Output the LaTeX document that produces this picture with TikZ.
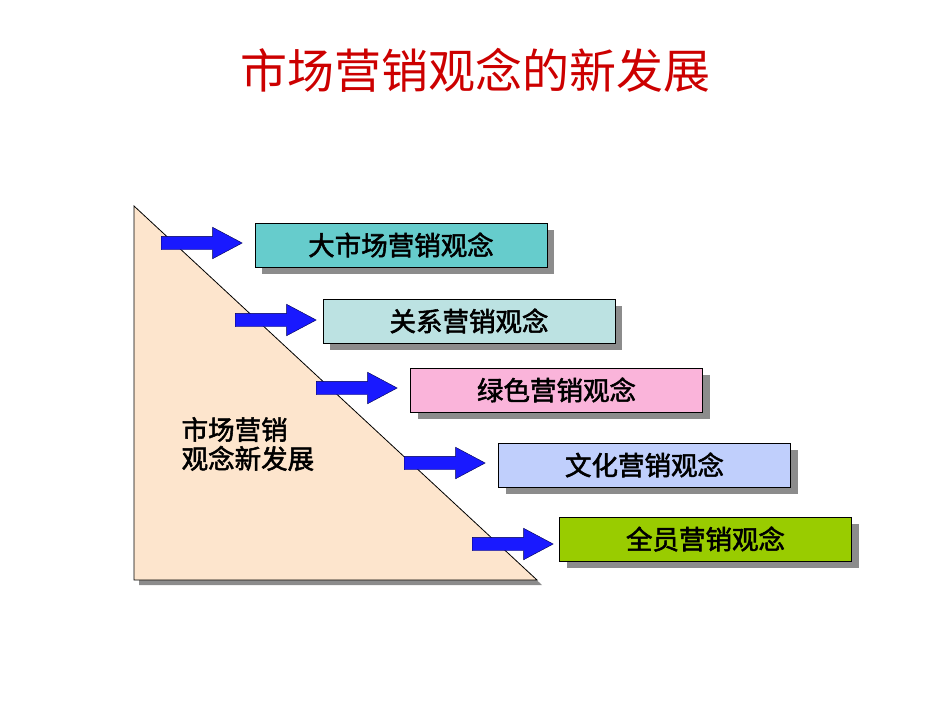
\documentclass[tikz,border=0pt]{standalone}
\usepackage{fontspec}
\usepackage{tikz}
\usetikzlibrary{shapes,shadows}
\newfontfamily\cjk{Noto Sans CJK SC}
\newfontfamily\cjkb[FakeBold=2]{Noto Sans CJK SC}
\definecolor{titlered}{HTML}{CC0000}
\definecolor{peach}{HTML}{FDE5CD}
\definecolor{teal1}{HTML}{66CCCC}
\definecolor{teal2}{HTML}{BCE2E2}
\definecolor{pink3}{HTML}{FAB4DA}
\definecolor{blue4}{HTML}{C0CFFC}
\definecolor{green5}{HTML}{99CC00}

\begin{document}
\begin{tikzpicture}[x=1pt,y=-1pt,semithick]
\tikzstyle{every node}=[font=\cjkb\fontsize{26.5}{29}\selectfont]
\tikzstyle{concept}=[draw=black,line width=0.8pt,minimum width=292pt,minimum height=44pt,inner sep=0pt,
  drop shadow={shadow xshift=7pt,shadow yshift=-7pt,fill=gray!90,opacity=1}]
\tikzstyle{push}=[single arrow,draw=blue!30!black,thin,fill=blue!90!white,inner xsep=0pt,inner ysep=6.5pt,
  minimum height=81pt,single arrow head extend=9pt,single arrow tip angle=56,anchor=tail]
\useasboundingbox (0,0) rectangle (950,713);

\node[text=titlered,font=\cjk\fontsize{47}{52}\selectfont] (title) at (475,70) {市场营销观念的新发展};

\filldraw[fill=peach,draw=black,line width=0.8pt,drop shadow={shadow xshift=5pt,shadow yshift=-5pt,fill=gray!90,opacity=1}]
  (134,206) -- (134,580) -- (537,580) -- cycle;
\node[align=left,anchor=west] (stage) at (178,444) {市场营销\\观念新发展};

\node[concept,fill=teal1] (big) at (401,245) {大市场营销观念};
\node[concept,fill=teal2] (rel) at (469,321) {关系营销观念};
\node[concept,fill=pink3] (green) at (556.5,390) {绿色营销观念};
\node[concept,fill=blue4] (cult) at (644.5,465) {文化营销观念};
\node[concept,fill=green5] (all) at (705.5,539) {全员营销观念};

\node[push] (a1) at (161,243) {};
\node[push] (a2) at (235,320) {};
\node[push] (a3) at (316,388) {};
\node[push] (a4) at (404,463) {};
\node[push] (a5) at (472,544) {};
\end{tikzpicture}
\end{document}
